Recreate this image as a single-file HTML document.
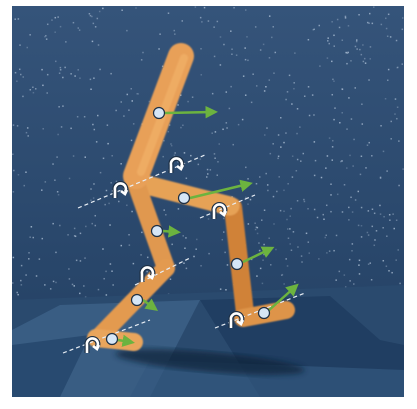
<!DOCTYPE html>
<html><head><meta charset="utf-8"><style>
html,body{margin:0;padding:0;background:#fff;width:417px;height:409px;overflow:hidden}
svg{display:block}
</style></head><body>
<svg id="scene" width="417" height="409" viewBox="0 0 417 409">
<defs>
<linearGradient id="sky" x1="0" y1="0" x2="0" y2="1"><stop offset="0" stop-color="#35547a"/><stop offset="1" stop-color="#223f62"/></linearGradient>
<filter id="blur"><feGaussianBlur stdDeviation="3"/></filter>
<filter id="soft"><feGaussianBlur stdDeviation="0.8"/></filter>
<marker id="ah" markerWidth="5" markerHeight="5" refX="3" refY="2.5" orient="auto"><path d="M0,0 L5,2.5 L0,5 z" fill="#6cb33f"/></marker>
</defs>
<rect x="12" y="6" width="392" height="391" fill="url(#sky)"/>
<g id="stars"></g>
<g>
<polygon points="12,300 404,285 404,397 12,397" fill="#2a4a6e"/>
<polygon points="12,330 60,305 200,300 150,397 12,397" fill="#3d6188" opacity="0.8"/>
<polygon points="200,300 330,296 380,340 404,345 404,397 260,397" fill="#1f3d60" opacity="0.9"/>
<polygon points="12,345 90,335 60,397 12,397" fill="#284a70"/>
<polygon points="150,360 404,370 404,397 130,397" fill="#33587f" opacity="0.7"/>
<ellipse cx="210" cy="362" rx="95" ry="10" fill="#0f2238" opacity="0.7" filter="url(#blur)" transform="rotate(5 210 362)"/>
</g>
<g stroke-linecap="round" fill="none" filter="url(#soft)">
<line x1="233" y1="207" x2="245" y2="313" stroke="#d08238" stroke-width="18"/>
<line x1="243" y1="318" x2="286" y2="310" stroke="#de9448" stroke-width="18"/>
<line x1="135" y1="182" x2="230" y2="206" stroke="#e6a257" stroke-width="19"/>
<line x1="137" y1="186" x2="166" y2="268" stroke="#e09850" stroke-width="18"/>
<line x1="166" y1="268" x2="100" y2="336" stroke="#e39a50" stroke-width="18"/>
<line x1="96" y1="338" x2="134" y2="342" stroke="#e9a55c" stroke-width="18"/>
<line x1="181" y1="56" x2="136" y2="176" stroke="#e8a058" stroke-width="26"/>
<line x1="184" y1="58" x2="141" y2="172" stroke="#f3b870" stroke-width="8" opacity="0.5"/>
</g>
<g id="axes" stroke="#e8eef5" stroke-width="1.2" stroke-dasharray="4,3"></g>
<g id="arrows" stroke="#6cb33f" stroke-width="2.5" marker-end="url(#ah)"></g>
<g id="dots"></g>
<g id="joints" fill="none" stroke="#fff" stroke-width="2.6"></g>
</svg>
<script>
const NS="http://www.w3.org/2000/svg";
const axisLines=[[78,208,205,155],[200,218,255,195],[135,285,190,258],[63,353,150,320],[215,328,305,293]];
const arrowSegs=[[165,113,213,112],[190,198,248,184],[163,231,176,232],[243,262,270,249],[143,300,154,308],[268,311,295,287],[118,340,130,342]];
const dotPts=[[159,113],[184,198],[157,231],[237,264],[137,300],[264,313],[112,339]];
const jointPts=[[176,165],[120,190],[219,211],[147,274],[236,320],[92,345]];
function mk(t,a){const e=document.createElementNS(NS,t);for(const k in a)e.setAttribute(k,a[k]);return e;}
let seed=7;function rnd(){seed=(seed*16807)%2147483647;return seed/2147483647;}
const st=document.getElementById('stars');
for(let i=0;i<650;i++){const x=12+rnd()*392,y=6+rnd()*300;const e=mk('rect',{x:x,y:y,width:1.5,height:1.5,fill:'#c8d8ea',opacity:(0.25+rnd()*0.45).toFixed(2)});


st.appendChild(e);}
const ax=document.getElementById('axes');
axisLines.forEach(l=>{const e=mk('line',{x1:l[0],y1:l[1],x2:l[2],y2:l[3]});


ax.appendChild(e);});
const ar=document.getElementById('arrows');
arrowSegs.forEach(l=>{const e=mk('line',{x1:l[0],y1:l[1],x2:l[2],y2:l[3]});


ar.appendChild(e);});
const dt=document.getElementById('dots');
dotPts.forEach(p=>{const e=mk('circle',{cx:p[0],cy:p[1],r:5.5,fill:'#d6e6f6',stroke:'#1d2f44','stroke-width':1.2});


dt.appendChild(e);});
const jt=document.getElementById('joints');
jointPts.forEach(p=>{const x=p[0],y=p[1];
const d=`M${x-5},${y+8} L${x-5},${y} A5.5,5.5 0 1 1 ${x+5},${y+2}`;
const e=mk('path',{d:d,stroke:'#1d2f44','stroke-width':5});


jt.appendChild(e);
const f=mk('path',{d:d+` M${x+1},${y+1} L${x+5},${y+4} L${x+7},${y}`});


jt.appendChild(f);});
</script>
</body></html>
